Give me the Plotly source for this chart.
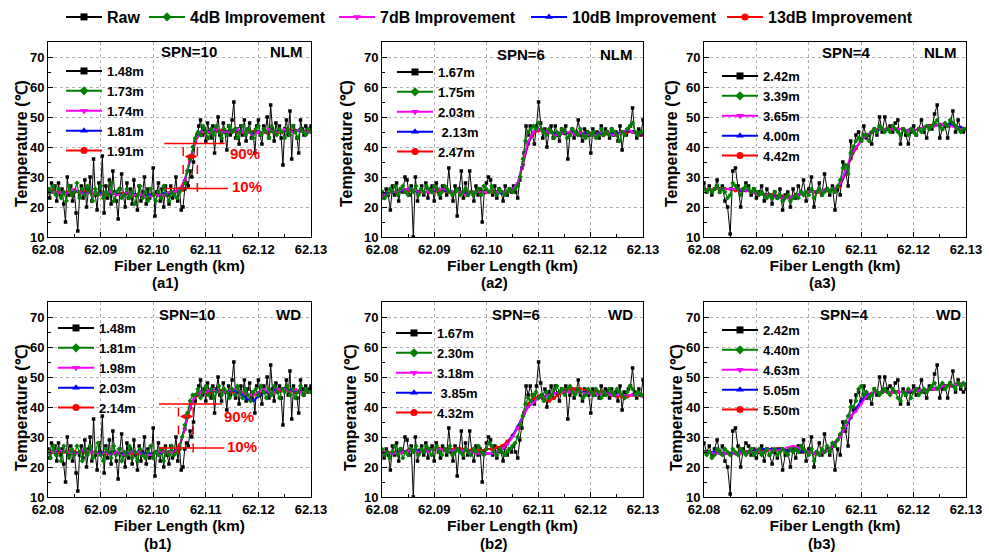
import numpy as np
import plotly.graph_objects as go

W, H = 989, 553
FONT = "Liberation Sans, Arial, sans-serif"

# ---------------- data ----------------
x_start, x_end = 62.08, 62.13
x_ticks = [62.08, 62.09, 62.10, 62.11, 62.12, 62.13]
y_ticks = [10, 20, 30, 40, 50, 60, 70]

series_names = ["Raw", "4dB Improvement", "7dB Improvement", "10dB Improvement", "13dB Improvement"]
series_colors = ["#000000", "#008000", "#FF00FF", "#0000FF", "#FF0000"]
series_symbols = ["square", "diamond", "triangle-down", "triangle-up", "circle"]

# raw traces (SPN=10, 6, 4) -- shared by NLM and WD rows
raw_spn10 = [26, 23, 28, 25, 27, 22, 28, 24, 26, 21,
             15, 30, 24, 27, 22, 25, 18, 12, 24, 27,
             23, 29, 20, 26, 30, 22, 36, 24, 19, 28,
             25, 37, 18, 27, 23, 29, 21, 32, 25, 22,
             16, 26, 31, 24, 20, 28, 23, 26, 21, 29,
             24, 19, 27, 22, 25, 30, 21, 26, 23, 24,
             33, 17, 25, 28, 22, 26, 20, 27, 24, 21,
             27, 23, 25, 30, 22, 26, 19, 20, 26, 28,
             27, 32, 30, 35, 42, 44, 47, 49, 44, 46,
             42, 48, 45, 43, 47, 38, 46, 50, 44, 42,
             48, 45, 39, 47, 44, 49, 55, 43, 46, 41,
             47, 44, 49, 42, 46, 48, 43, 45, 38, 47,
             49, 44, 41, 47, 45, 50, 43, 54, 46, 42,
             48, 45, 47, 43, 34, 46, 49, 44, 52, 36,
             47, 45, 43, 38, 49, 46, 44, 47, 45, 46,
             47]
raw_spn6 = [25, 23, 26, 24, 19, 27, 24, 28, 22, 26,
            25, 30, 29, 24, 27, 10, 30, 22, 25, 27,
            24, 28, 23, 26, 27, 22, 28, 25, 23, 27,
            26, 24, 33, 25, 22, 27, 17, 26, 32, 23,
            28, 24, 32, 25, 22, 27, 24, 26, 15, 25,
            28, 30, 29, 24, 27, 23, 26, 25, 22, 27,
            24, 26, 25, 27, 25, 23, 29, 33, 38, 47,
            44, 47, 44, 41, 47, 55, 48, 43, 46, 40,
            45, 47, 43, 47, 44, 42, 46, 45, 47, 36,
            44, 46, 43, 45, 49, 44, 42, 46, 45, 44,
            38, 46, 44, 45, 43, 47, 44, 46, 45, 43,
            46, 44, 45, 42, 47, 39, 45, 44, 46, 47,
            53, 45, 43, 46, 44, 49]
raw_spn4 = [28, 25, 27, 24, 26, 29, 25, 27, 22, 20,
            11, 32, 33, 27, 20, 26, 28, 27, 24, 26,
            23, 25, 27, 22, 26, 24, 21, 25, 23, 26,
            19, 24, 25, 20, 26, 23, 27, 25, 29, 22,
            26, 30, 20, 25, 28, 24, 31, 26, 24, 27,
            19, 26, 24, 35, 32, 27, 42, 39, 44, 45,
            42, 47, 43, 44, 41, 46, 44, 50, 45, 50,
            46, 47, 45, 48, 49, 41, 46, 44, 41, 45,
            47, 44, 46, 49, 45, 43, 47, 46, 51, 54,
            43, 46, 47, 43, 48, 52, 45, 49, 46, 45,
            46]

# ---- NLM, SPN=10 ----
a1_4db = [26, 25, 27, 24, 26, 23, 25, 22, 27, 24,
          25, 28, 23, 26, 24, 27, 25, 22, 26, 24,
          27, 23, 25, 24, 28, 22, 25, 26, 23, 24,
          26, 23, 25, 21, 24, 27, 23, 25, 22, 26,
          24, 22, 25, 23, 27, 24, 22, 25, 24, 23,
          25, 26, 28, 32, 36, 40, 43, 45, 44, 47,
          45, 43, 46, 44, 47, 45, 43, 46, 44, 47,
          45, 46, 43, 45, 47, 44, 46, 45, 43, 46,
          47, 44, 46, 45, 43, 47, 45, 44, 46, 45,
          43, 46, 44, 47, 45, 43, 46, 45, 44, 46,
          45]
a1_7db = [26, 25, 25, 24, 25, 26, 25, 24, 25, 25, 24, 25, 25, 24, 24, 25, 24, 24, 24, 23,
          24, 24, 24, 25, 25, 26, 29, 36, 42, 45, 45, 45, 46, 45, 45, 45, 46, 45, 45, 44,
          45, 45, 46, 45, 45, 46, 45, 45, 46, 45, 45]
a1_10db = [25.5, 25, 25, 24.5, 25, 25.5, 25, 24.5, 25, 25, 24.5, 25, 24.5, 24.5, 24, 24.5, 24.5, 24, 24, 24,
           24, 24, 24.5, 24.5, 25, 25.5, 29, 36, 42, 45, 45, 45.5, 45.5, 45, 45, 45.5, 45.5, 45, 45, 44.5,
           45, 45, 45.5, 45, 45, 45.5, 45, 45.5, 45.5, 45, 45]
a1_13db = [25.5, 25.5, 25, 25, 25, 25, 25, 25, 25, 24.5, 24.5, 24.5, 24.5, 24.5, 24.5, 24.5, 24, 24, 24, 24,
           24, 24, 24, 24.5, 25, 25.5, 28.5, 35.5, 42, 44.5, 45, 45, 45.5, 45.5, 45, 45, 45, 45, 45, 45,
           45, 45, 45, 45, 45, 45.5, 45.5, 45.5, 45.5, 45, 45]

# ---- NLM, SPN=6 ----
a2_4db = [25, 23, 24, 26, 25, 27, 24, 26, 27, 25,
          24, 26, 25, 27, 24, 26, 25, 27, 26, 25,
          27, 26, 24, 25, 27, 26, 25, 24, 25, 26,
          24, 25, 26, 24, 25, 24, 25, 26, 24, 27,
          26, 25, 27, 25, 24, 26, 25, 24, 25, 26,
          25, 26, 27, 30, 36, 42, 45, 46, 47, 46,
          48, 46, 45, 44, 46, 45, 43, 45, 44, 46,
          45, 43, 44, 46, 45, 44, 46, 44, 43, 45,
          44, 45, 43, 44, 46, 44, 45, 44, 46, 45,
          44, 42, 45, 44, 46, 47, 48, 45, 44, 45,
          45]
a2_7db = [24, 24, 25, 25, 26, 26, 26, 25, 25, 25, 26, 26, 26, 25, 25, 25, 24, 25, 25, 25,
          25, 25, 25, 25, 25, 26, 28, 35, 42, 45, 46, 45, 45, 44, 44, 45, 45, 44, 45, 44,
          44, 44, 45, 45, 44, 44, 45, 46, 45, 44, 45]
a2_10db = [24, 24.5, 25, 25, 25.5, 26, 25.5, 25, 25, 25, 25.5, 26, 25.5, 25, 25, 25, 24.5, 25, 25, 25,
           25, 25, 25, 24.5, 25, 26, 28, 34.5, 41.5, 45, 46, 45.5, 45, 44.5, 44.5, 44.5, 45, 44.5, 44.5, 44.5,
           44, 44.5, 44.5, 45, 44.5, 44.5, 45, 45.5, 45, 44.5, 44.5]
a2_13db = [24.5, 24.5, 25, 25, 25.5, 25.5, 25.5, 25, 25, 25, 25.5, 25.5, 25.5, 25, 25, 25, 25, 25, 25, 25,
           25, 25, 25, 25, 25, 25.5, 27.5, 34, 41, 44.5, 45.5, 45.5, 45, 44.5, 44.5, 44.5, 44.5, 44.5, 44.5, 44.5,
           44.5, 44.5, 44.5, 44.5, 44.5, 44.5, 45, 45, 45, 44.5, 44]

# ---- NLM, SPN=4 ----
a3_4db = [26, 25, 26, 25, 26, 27, 25, 26, 25, 23,
          24, 28, 27, 26, 24, 26, 27, 26, 25, 26,
          25, 24, 25, 24, 23, 24, 23, 25, 23, 24,
          22, 23, 24, 22, 23, 24, 23, 25, 24, 25,
          24, 26, 23, 25, 26, 24, 25, 26, 25, 26,
          25, 27, 29, 33, 34, 31, 38, 40, 42, 43,
          42, 44, 44, 42, 45, 46, 45, 47, 46, 45,
          46, 45, 47, 46, 45, 44, 46, 45, 44, 46,
          45, 44, 46, 45, 46, 47, 46, 47, 48, 49,
          47, 46, 48, 47, 49, 48, 47, 46, 45, 46,
          46]
a3_7db = [26, 26, 26, 26, 26, 26, 26, 26, 25.5, 25, 24.5, 24.5, 24, 23.5, 23, 23, 23, 23.5, 24, 24.5,
          25, 25, 25, 25.5, 25.5, 26, 28, 32, 37, 40, 42, 44, 45, 46, 46, 46, 46, 46, 46, 45.5,
          45.5, 46, 46.5, 47, 47, 47.5, 47.5, 47, 46.5, 46, 46]
a3_10db = [26, 26, 26, 26, 26, 26, 26, 25.5, 25.5, 25, 24.5, 24.5, 24, 23.5, 23.5, 23, 23, 23.5, 24, 24.5,
           25, 25, 25, 25.5, 25.5, 26, 27.5, 31.5, 36.5, 40, 42, 44, 45, 45.5, 46, 46, 46, 46, 46, 45.5,
           45.5, 46, 46.5, 47, 47, 47.5, 47.5, 47.5, 47, 46.5, 46]
a3_13db = [26, 26, 26, 26, 26, 26, 25.5, 25.5, 25.5, 25, 24.5, 24.5, 24, 24, 23.5, 23.5, 23.5, 23.5, 24, 24.5,
           25, 25, 25, 25.5, 25.5, 26, 27, 31, 36, 39.5, 42, 44, 45, 45.5, 46, 46, 46, 46, 46, 45.5,
           45.5, 46, 46.5, 47, 47.5, 47.5, 47.5, 47.5, 47, 46.5, 46]

# ---- WD, SPN=10 ----
b1_4db = [25, 23, 27, 24, 26, 22, 27, 25, 23, 26,
          24, 27, 25, 22, 26, 24, 27, 23, 25, 28,
          24, 22, 26, 25, 23, 27, 24, 26, 22, 25,
          24, 27, 23, 25, 22, 26, 24, 23, 25, 27,
          23, 25, 24, 26, 22, 25, 24, 27, 24, 25,
          26, 30, 34, 38, 42, 44, 44, 46, 43, 45,
          47, 44, 46, 43, 45, 47, 44, 46, 45, 43,
          46, 44, 47, 45, 43, 46, 44, 42, 45, 46,
          44, 47, 45, 43, 46, 44, 47, 45, 43, 46,
          45, 47, 44, 46, 43, 45, 47, 44, 46, 45,
          45]
b1_7db = [25, 25, 26, 25, 25, 24, 25, 26, 25, 25, 24, 25, 24, 25, 24, 24, 25, 25, 24, 24,
          24, 25, 25, 25, 25, 27, 33, 40, 44, 45, 45, 46, 45, 45, 45, 46, 46, 45, 44, 44,
          45, 46, 45, 45, 46, 46, 45, 46, 45, 45, 45]
b1_10db = [25, 25, 25.5, 25, 25, 24.5, 25, 25.5, 25, 25, 24.5, 25, 24.5, 24.5, 24.5, 24.5, 25, 25, 24.5, 24.5,
           24.5, 24.5, 25, 25, 25, 27, 33, 40, 44, 45, 45, 45.5, 45.5, 45, 45, 45.5, 45, 44, 42.5, 42,
           43.5, 45, 45, 45.5, 46, 46, 45.5, 45.5, 45, 45, 45]
b1_13db = [25, 25, 25, 25, 25, 25, 25, 25, 25, 25, 24.5, 24.5, 24.5, 24.5, 24.5, 24.5, 24.5, 24.5, 24.5, 24.5,
           24.5, 24.5, 25, 25, 25, 26.5, 32.5, 39.5, 43.5, 45, 45, 45, 45.5, 45.5, 45, 45, 45, 44.5, 44, 44,
           44.5, 45, 45, 45.5, 45.5, 45.5, 45.5, 45, 45, 45, 45]

# ---- WD, SPN=6 ----
b2_4db = [26, 24, 25, 23, 25, 27, 24, 26, 23, 25,
          24, 26, 25, 27, 24, 26, 25, 27, 26, 24,
          26, 27, 25, 24, 26, 25, 27, 24, 25, 26,
          25, 24, 26, 25, 24, 26, 25, 27, 25, 24,
          26, 28, 27, 25, 24, 26, 25, 24, 25, 26,
          27, 28, 30, 34, 37, 41, 43, 42, 44, 45,
          43, 44, 42, 45, 43, 44, 46, 47, 45, 46,
          44, 46, 47, 45, 44, 46, 45, 43, 44, 46,
          45, 44, 46, 45, 43, 45, 44, 46, 45, 44,
          46, 45, 44, 43, 45, 47, 46, 44, 45, 44,
          44]
b2_7db = [25, 25, 24.5, 24.5, 25, 25.5, 25.5, 25, 25, 25.5, 26, 26, 25.5, 25.5, 25.5, 25.5, 25.5, 25, 24.5, 24.5,
          24.5, 24.5, 25, 26, 27.5, 30, 33, 37, 40, 41.5, 43, 43.5, 44, 44.5, 45, 45, 45, 45, 45, 44.5,
          44.5, 44.5, 44.5, 44.5, 44, 44, 44, 44, 44, 44, 43.5]
b2_10db = [25, 25, 24.5, 25, 25, 25.5, 25.5, 25.5, 25, 25.5, 26, 26, 25.5, 25.5, 25.5, 25.5, 25.5, 25, 25, 24.5,
           24.5, 24.5, 25, 26, 27.5, 30.5, 33.5, 37, 40, 41.5, 43, 43.5, 44, 44.5, 45, 45, 45, 45, 45, 45,
           44.5, 44.5, 44.5, 44.5, 44.5, 44, 44, 44, 44, 44, 43.5]
b2_13db = [25, 25, 25, 25, 25, 25.5, 25.5, 25.5, 25.5, 25.5, 26, 26, 26, 26, 26, 26, 26, 25.5, 25.5, 25.5,
           26, 26, 26.5, 27, 28.5, 30.5, 33, 37, 41, 43, 43.5, 42.5, 42, 43, 44.5, 45.5, 46, 46, 46, 45.5,
           45, 45, 45, 44.5, 44, 43.5, 43.5, 43.5, 44, 44, 44]

# ---- WD, SPN=4 ----
b3_4db = [25, 24, 25, 23, 24, 26, 25, 24, 26, 25,
          24, 26, 25, 24, 26, 25, 24, 25, 26, 24,
          25, 26, 24, 25, 26, 24, 25, 26, 24, 25,
          26, 25, 24, 26, 25, 26, 25, 27, 26, 25,
          24, 26, 22, 25, 24, 26, 25, 27, 25, 28,
          27, 29, 31, 33, 35, 37, 40, 40, 42, 46,
          47, 44, 45, 43, 44, 46, 45, 44, 45, 46,
          45, 44, 46, 45, 43, 42, 45, 44, 46, 43,
          45, 46, 44, 45, 46, 45, 46, 47, 48, 46,
          47, 48, 46, 47, 48, 47, 46, 48, 47, 48,
          47]
b3_7db = [25, 25, 24.5, 24.5, 24.5, 24, 24.5, 24.5, 25, 25, 25, 25, 25.5, 25.5, 25.5, 26, 26.5, 27, 26.5, 26,
          25, 24.5, 24.5, 25, 26, 27.5, 30, 33.5, 37, 38.5, 41, 43.5, 44.5, 45, 45, 45, 45, 45, 45, 45.5,
          45.5, 45.5, 45.5, 46, 46, 46.5, 47, 47, 47.5, 47.5, 47]
b3_10db = [25, 25, 25, 24.5, 24.5, 24.5, 24.5, 25, 25, 25.5, 25.5, 26, 26, 26, 26, 26, 25.5, 25.5, 25.5, 25,
           25, 24.5, 24.5, 25, 26, 28, 30.5, 33, 36.5, 39.5, 42, 44, 44.5, 45, 45, 45, 45, 45, 45, 45,
           45.5, 45.5, 45.5, 46, 46, 46.5, 47, 47, 47.5, 47.5, 47.5]
b3_13db = [25, 25, 25, 25, 24.5, 24.5, 24.5, 25, 25, 25.5, 25.5, 25.5, 26, 26, 26, 26, 25.5, 25.5, 25.5, 25,
           25, 24.5, 24.5, 25, 26, 28, 30.5, 33, 36.5, 39.5, 42, 44, 44.5, 45, 45, 45, 45, 45, 45, 45,
           45.5, 45.5, 45.5, 46, 46, 46.5, 47, 47, 47.5, 47.5, 47.5]

# legend labels (spatial resolution)
a1_labels = ["1.48m", "1.73m", "1.74m", "1.81m", "1.91m"]
a2_labels = ["1.67m", "1.75m", "2.03m", " 2.13m", "2.47m"]
a3_labels = ["2.42m", "3.39m", "3.65m", "4.00m", "4.42m"]
b1_labels = ["1.48m", "1.81m", "1.98m", "2.03m", "2.14m"]
b2_labels = ["1.67m", "2.30m", "3.18m", " 3.85m", "4.32m"]
b3_labels = ["2.42m", "4.40m", "4.63m", "5.05m", "5.50m"]

spn_labels = ["SPN=10", "SPN=6", "SPN=4", "SPN=10", "SPN=6", "SPN=4"]
method_labels = ["NLM", "NLM", "NLM", "WD", "WD", "WD"]
panel_tags = ["(a1)", "(a2)", "(a3)", "(b1)", "(b2)", "(b3)"]
x_title = "Fiber Length (km)"
y_title = "Temperature (℃)"

# 10%-90% rise markers (km, degC) for the SPN=10 panels
rise_a1 = dict(x10=62.1057, x90=62.1084, y10=26.2, y90=41.2, ybot=25.0, ytop=41.2, yarr=36.8,
               h90=(62.1021, 62.1136), h10=(62.1022, 62.1142), lab90=(62.1142, 37.7), lab10=(62.1146, 26.7))
rise_b1 = dict(x10=62.1048, x90=62.1076, y10=26.3, y90=41.0, ybot=24.8, ytop=43.0, yarr=36.8,
               h90=(62.1011, 62.1131), h10=(62.1011, 62.1135), lab90=(62.1131, 37.0), lab10=(62.1137, 26.7))

panels = [
    dict(series=[raw_spn10, a1_4db, a1_7db, a1_10db, a1_13db], labels=a1_labels),
    dict(series=[raw_spn6, a2_4db, a2_7db, a2_10db, a2_13db], labels=a2_labels),
    dict(series=[raw_spn4, a3_4db, a3_7db, a3_10db, a3_13db], labels=a3_labels),
    dict(series=[raw_spn10, b1_4db, b1_7db, b1_10db, b1_13db], labels=b1_labels),
    dict(series=[raw_spn6, b2_4db, b2_7db, b2_10db, b2_13db], labels=b2_labels),
    dict(series=[raw_spn4, b3_4db, b3_7db, b3_10db, b3_13db], labels=b3_labels),
]

# ---------------- layout geometry (pixels) ----------------
col_px = [(48, 311), (382, 643), (704, 966)]
row_px = [(42, 237), (302, 497)]
# panel legends: (text start x, top y)
legend_px = [(107, 56), (438, 57), (763, 61), (99, 313), (437, 318), (763, 315)]
# top legend: text start x of each entry
top_legend_text_x = [107, 190, 380, 572, 768]
spn_px = [(189, 51), (521, 54), (846, 52), (187, 314), (516, 314), (844, 314)]
method_px = [(286, 51), (616, 54), (940, 52), (288, 314), (620, 314), (948, 314)]
tag_px = [(165, 282), (494, 282), (822, 282), (158, 543), (494, 543), (822, 543)]
ytitle_px = [(22, 144), (347, 144), (672, 144), (21, 408), (350, 408), (676, 408)]


def px(x):
    return x / W


def py(y):
    return 1 - y / H


line_widths = [1, 1.2, 1.8, 1.8, 1.8]
marker_sizes = [3.5, 4, 4, 4, 4]
draw_order = [0, 4, 3, 2, 1]
ITEMW = 36  # legend symbol width; text starts at ITEMW + 10

fig = go.Figure()

for i, p in enumerate(panels):
    sfx = "" if i == 0 else str(i + 1)
    for s in draw_order:
        vals = p["series"][s]
        xs = np.linspace(x_start, x_end, len(vals))
        fig.add_trace(go.Scatter(
            x=xs, y=vals, mode="lines+markers", name=p["labels"][s], showlegend=False,
            xaxis="x" + sfx, yaxis="y" + sfx,
            line=dict(color=series_colors[s], width=line_widths[s]),
            marker=dict(symbol=series_symbols[s], size=marker_sizes[s], color=series_colors[s]),
            hoverinfo="skip"))
    # legend entries for this panel
    for s in range(5):
        fig.add_trace(go.Scatter(
            x=[None], y=[None], mode="lines+markers", name=p["labels"][s],
            legend="legend" + str(i + 2), legendrank=s + 1,
            xaxis="x" + sfx, yaxis="y" + sfx,
            line=dict(color=series_colors[s], width=2),
            marker=dict(symbol=series_symbols[s], size=7, color=series_colors[s])))

# top shared legend (one legend box per entry for exact placement)
for s in range(5):
    fig.add_trace(go.Scatter(
        x=[None], y=[None], mode="lines+markers", name=series_names[s],
        legend="legend" + str(8 + s), xaxis="x", yaxis="y",
        line=dict(color=series_colors[s], width=2),
        marker=dict(symbol=series_symbols[s], size=7, color=series_colors[s])))

bold = dict(family=FONT, color="black", weight="bold")
layout = dict(
    width=W, height=H, margin=dict(l=0, r=0, t=0, b=0, autoexpand=False),
    paper_bgcolor="white", plot_bgcolor="white", showlegend=True,
)
for s in range(5):
    layout["legend" + str(8 + s)] = dict(
        x=px(top_legend_text_x[s] - ITEMW - 10), y=py(17), xanchor="left", yanchor="middle",
        font=dict(size=16, **bold), bgcolor="rgba(0,0,0,0)", itemwidth=ITEMW)

annotations = []
shapes = []


def paper_text(text, pos, size=15, angle=0):
    return dict(text=text, x=px(pos[0]), y=py(pos[1]), xref="paper", yref="paper",
                xanchor="center", yanchor="middle", showarrow=False, textangle=angle,
                font=dict(size=size, **bold))


for i in range(6):
    r, c = divmod(i, 3)
    sfx = "" if i == 0 else str(i + 1)
    xd = [px(col_px[c][0]), px(col_px[c][1])]
    yd = [py(row_px[r][1]), py(row_px[r][0])]
    layout["xaxis" + sfx] = dict(
        domain=xd, anchor="y" + sfx, range=[x_start, x_end], tickvals=x_ticks, tickformat=".2f",
        automargin=False,
        ticks="inside", ticklen=5, tickcolor="black", showline=True, linecolor="black", linewidth=1,
        mirror=True, showgrid=True, gridcolor="#b0b0b0", griddash="dot", gridwidth=1, zeroline=False,
        tickfont=dict(size=13, **bold),
        minor=dict(dtick=0.005, ticks="inside", ticklen=3, tickcolor="black", showgrid=False),
        title=dict(text=x_title, font=dict(size=15.5, **bold), standoff=0))
    layout["yaxis" + sfx] = dict(
        domain=yd, anchor="x" + sfx, range=[10, 75], tickvals=y_ticks,
        automargin=False,
        ticks="inside", ticklen=5, tickcolor="black", showline=True, linecolor="black", linewidth=1,
        mirror=True, showgrid=True, gridcolor="#b0b0b0", griddash="dot", gridwidth=1, zeroline=False,
        tickfont=dict(size=13, **bold),
        minor=dict(dtick=5, ticks="inside", ticklen=3, tickcolor="black", showgrid=False))
    lx, ly = legend_px[i]
    layout["legend" + str(i + 2)] = dict(
        x=px(lx - ITEMW - 10), y=py(ly), xanchor="left", yanchor="top", bgcolor="rgba(0,0,0,0)",
        font=dict(size=13, **bold), traceorder="normal", itemwidth=ITEMW)
    annotations.append(paper_text(y_title, ytitle_px[i], size=16, angle=-90))
    annotations.append(paper_text(spn_labels[i], spn_px[i]))
    annotations.append(paper_text(method_labels[i], method_px[i]))
    annotations.append(paper_text(panel_tags[i], tag_px[i]))

red = "#FF0000"
for rise, sfx in [(rise_a1, ""), (rise_b1, "4")]:
    xr, yr = "x" + sfx, "y" + sfx
    shapes.append(dict(type="line", xref=xr, yref=yr, x0=rise["h90"][0], x1=rise["h90"][1],
                       y0=rise["y90"], y1=rise["y90"], line=dict(color=red, width=1.5)))
    shapes.append(dict(type="line", xref=xr, yref=yr, x0=rise["h10"][0], x1=rise["h10"][1],
                       y0=rise["y10"], y1=rise["y10"], line=dict(color=red, width=1.5)))
    for xv in (rise["x10"], rise["x90"]):
        shapes.append(dict(type="line", xref=xr, yref=yr, x0=xv, x1=xv,
                           y0=rise["ybot"], y1=rise["ytop"], line=dict(color=red, width=1.5, dash="dash")))
    annotations.append(dict(x=rise["x90"], y=rise["yarr"], ax=rise["x10"], ay=rise["yarr"],
                            xref=xr, yref=yr, axref=xr, ayref=yr, text="", showarrow=True,
                            arrowhead=2, arrowside="end+start", arrowsize=0.8, arrowwidth=1.5,
                            arrowcolor=red))
    for lab, key in (("90%", "lab90"), ("10%", "lab10")):
        annotations.append(dict(x=rise[key][0], y=rise[key][1], xref=xr, yref=yr, text=lab,
                                showarrow=False, xanchor="left", yanchor="middle",
                                font=dict(size=15, family=FONT, color=red, weight="bold")))

layout["annotations"] = annotations
layout["shapes"] = shapes
fig.update_layout(**layout)
fig.write_html("out.html", config={"displayModeBar": False},
               post_script="document.body.style.margin='0';document.body.style.overflow='hidden';")
